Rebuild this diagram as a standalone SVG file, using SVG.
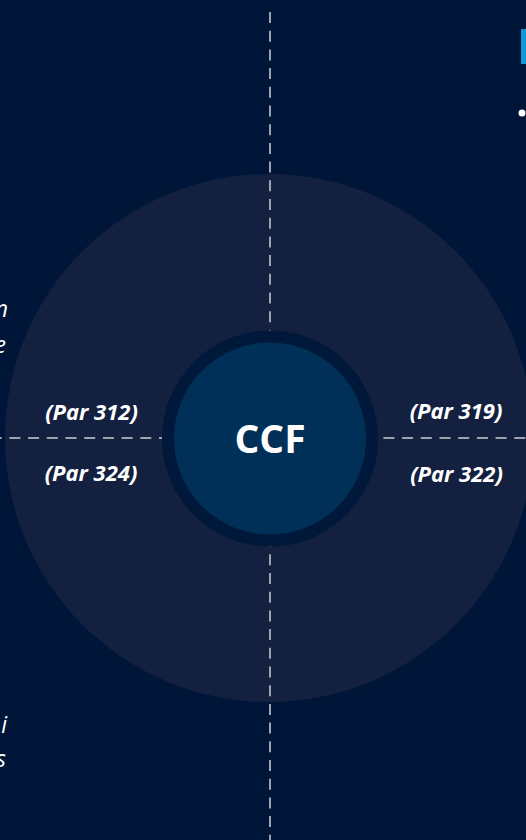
<svg xmlns="http://www.w3.org/2000/svg" width="526" height="840" viewBox="0 0 526 840">
  <style>
    .guide { fill: none; stroke: #9ea3ad; stroke-width: 2; stroke-dasharray: 11 7.7; }
    .ref { font-family: "Open Sans", "Liberation Sans", sans-serif; font-size: 22px; font-weight: 700; font-style: italic; fill: #ffffff; text-anchor: middle; }
    .title { font-family: "Open Sans", "Liberation Sans", sans-serif; font-size: 39px; font-weight: 700; fill: #ffffff; text-anchor: middle; }
    .edge { font-family: "Open Sans", "Liberation Sans", sans-serif; font-size: 23px; font-style: italic; fill: #ffffff; text-anchor: end; }
  </style>

  <!-- page background -->
  <rect x="0" y="0" width="526" height="840" fill="#001639"/>

  <!-- outer zone disc -->
  <g id="zone">
    <circle cx="269" cy="438" r="264" fill="#13203f"/>
  </g>

  <!-- dashed axes -->
  <g id="connectors">
    <path class="guide" d="M270 12 V840"/>
    <path class="guide" d="M-9.3 438 H526"/>
  </g>

  <!-- central node -->
  <g id="ccf">
    <circle cx="270" cy="438.5" r="102" fill="#003057" stroke="#00183a" stroke-width="12"/>
    <text class="title" x="270" y="453">CCF</text>
  </g>

  <!-- paragraph references around the axes -->
  <g id="par-312"><text class="ref" x="91.5" y="420">(Par 312)</text></g>
  <g id="par-324"><text class="ref" x="91" y="481">(Par 324)</text></g>
  <g id="par-319"><text class="ref" x="456" y="419">(Par 319)</text></g>
  <g id="par-322"><text class="ref" x="456.5" y="482">(Par 322)</text></g>

  <!-- text running in from the left margin -->
  <g id="left-notes">
    <text class="edge" x="8" y="317">n</text>
    <text class="edge" x="6" y="353">e</text>
    <text class="edge" x="7" y="733">i</text>
    <text class="edge" x="6" y="767">s</text>
  </g>

  <!-- panel heading marker and bullet at the right margin -->
  <g id="right-panel">
    <rect x="521" y="29" width="6" height="35" fill="#0a9bd7"/>
    <circle cx="522" cy="113" r="3.5" fill="#ffffff"/>
  </g>
</svg>
